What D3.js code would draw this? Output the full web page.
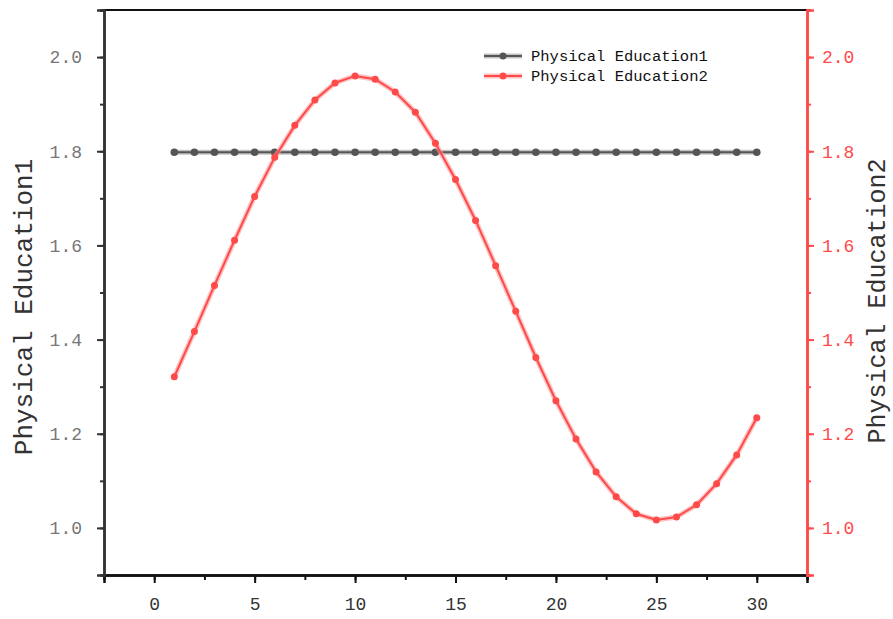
<!DOCTYPE html>
<html>
<head>
<meta charset="utf-8">
<script src="https://cdn.jsdelivr.net/npm/d3@7"></script>
<style>
  body { margin: 0; background: #fff; }
  text { font-family: "Liberation Mono", "DejaVu Sans Mono", monospace; }
</style>
</head>
<body>
<div id="chart"></div>
<script>
// data
var xValues = [1,2,3,4,5,6,7,8,9,10,11,12,13,14,15,16,17,18,19,20,21,22,23,24,25,26,27,28,29,30];
var pe1 = [1.798,1.798,1.798,1.798,1.798,1.798,1.798,1.798,1.798,1.798,1.798,1.798,1.798,1.798,1.798,
           1.798,1.798,1.798,1.798,1.798,1.798,1.798,1.798,1.798,1.798,1.798,1.798,1.798,1.798,1.798];
var pe2 = [1.321,1.417,1.515,1.611,1.704,1.787,1.855,1.909,1.945,1.960,1.953,1.926,1.883,1.817,1.740,
           1.653,1.557,1.460,1.362,1.270,1.189,1.119,1.066,1.030,1.017,1.023,1.049,1.094,1.155,1.234];
var xTicks = [0,5,10,15,20,25,30];
var yTicks = [1.0,1.2,1.4,1.6,1.8,2.0];
var seriesNames = ["Physical Education1","Physical Education2"];

var width = 893, height = 619;
var mLeft = 104, mRight = 807, mTop = 10, mBottom = 575;

var svg = d3.select("#chart").append("svg")
    .attr("width", width)
    .attr("height", height);

var x = d3.scaleLinear().domain([-2.5, 32.5]).range([mLeft, mRight]);
var yL = d3.scaleLinear().domain([0.9, 2.1]).range([mBottom, mTop]);
var yR = d3.scaleLinear().domain([0.9, 2.1]).range([mBottom, mTop]);

var red = "#ff4a4a", grey = "#555";

// top border
svg.append("line")
    .attr("x1", mLeft).attr("x2", mRight).attr("y1", mTop).attr("y2", mTop)
    .attr("stroke", "#111").attr("stroke-width", 2);

// bottom axis
var xMinor = d3.range(-2.5, 33, 2.5);
var gx = svg.append("g").attr("transform", "translate(0," + mBottom + ")");
gx.call(d3.axisBottom(x).tickValues(xMinor).tickSize(5).tickFormat(""));
gx.append("g").call(d3.axisBottom(x).tickValues(xTicks).tickSize(8).tickPadding(14).tickFormat(d3.format("d")));
gx.selectAll("path").attr("stroke", "#111").attr("stroke-width", 2.5);
gx.selectAll("line").attr("stroke", "#111").attr("stroke-width", 2);
gx.selectAll("text").attr("fill", "#333").style("font-size", "18px")
    .style("font-family", "'Liberation Mono', monospace");

// left axis
var yMinor = d3.range(0.9, 2.15, 0.1).map(function(d) { return +d.toFixed(1); });
var gl = svg.append("g").attr("transform", "translate(" + mLeft + ",0)");
gl.call(d3.axisLeft(yL).tickValues(yMinor).tickSize(4).tickFormat(""));
gl.append("g").call(d3.axisLeft(yL).tickValues(yTicks).tickSize(7).tickPadding(15).tickFormat(d3.format(".1f")));
gl.selectAll("path").attr("stroke", "#333").attr("stroke-width", 2.5);
gl.selectAll("line").attr("stroke", "#333").attr("stroke-width", 2);
gl.selectAll("text").attr("fill", "#777").style("font-size", "18px")
    .style("font-family", "'Liberation Mono', monospace");

// right axis
var gr = svg.append("g").attr("transform", "translate(" + mRight + ",0)");
gr.call(d3.axisRight(yR).tickValues(yMinor).tickSize(4).tickFormat(""));
gr.append("g").call(d3.axisRight(yR).tickValues(yTicks).tickSize(7).tickPadding(8).tickFormat(d3.format(".1f")));
gr.selectAll("path").attr("stroke", red).attr("stroke-width", 2.5);
gr.selectAll("line").attr("stroke", red).attr("stroke-width", 2);
gr.selectAll("text").attr("fill", red).style("font-size", "18px")
    .style("font-family", "'Liberation Mono', monospace");

// axis titles
svg.append("text")
    .attr("transform", "translate(32," + 307 + ") rotate(-90)")
    .attr("text-anchor", "middle")
    .attr("fill", "#333")
    .style("font-size", "26px")
    .text(seriesNames[0]);
svg.append("text")
    .attr("transform", "translate(885," + 301 + ") rotate(-90)")
    .attr("text-anchor", "middle")
    .attr("fill", "#333")
    .style("font-size", "25px")
    .text(seriesNames[1]);

// series
function drawSeries(vals, yScale, color, halo, r) {
  var pts = xValues.map(function(d, i) { return [d, vals[i]]; });
  var line = d3.line().x(function(d) { return x(d[0]); }).y(function(d) { return yScale(d[1]); });
  svg.append("path").datum(pts).attr("d", line)
      .attr("fill", "none").attr("stroke", halo).attr("stroke-width", 5).attr("stroke-opacity", 0.6);
  svg.append("path").datum(pts).attr("d", line)
      .attr("fill", "none").attr("stroke", color).attr("stroke-width", 2);
  svg.append("g").selectAll("circle").data(pts).enter().append("circle")
      .attr("cx", function(d) { return x(d[0]); })
      .attr("cy", function(d) { return yScale(d[1]); })
      .attr("r", r)
      .attr("fill", color);
}
drawSeries(pe1, yL, grey, "#999", 3.8);
drawSeries(pe2, yR, red, "#ff9a9a", 3.5);

// legend
var legend = svg.append("g");
[[grey, "#999"], [red, "#ff9a9a"]].forEach(function(c, i) {
  var ly = 56 + i * 20;
  legend.append("line").attr("x1", 484).attr("x2", 522).attr("y1", ly).attr("y2", ly)
      .attr("stroke", c[1]).attr("stroke-width", 5).attr("stroke-opacity", 0.6);
  legend.append("line").attr("x1", 484).attr("x2", 522).attr("y1", ly).attr("y2", ly)
      .attr("stroke", c[0]).attr("stroke-width", 2);
  legend.append("circle").attr("cx", 503).attr("cy", ly).attr("r", 3.5).attr("fill", c[0]);
  legend.append("text").attr("x", 531).attr("y", ly + 5)
      .attr("fill", "#111").style("font-size", "15.5px")
      .text(seriesNames[i]);
});
</script>
</body>
</html>
